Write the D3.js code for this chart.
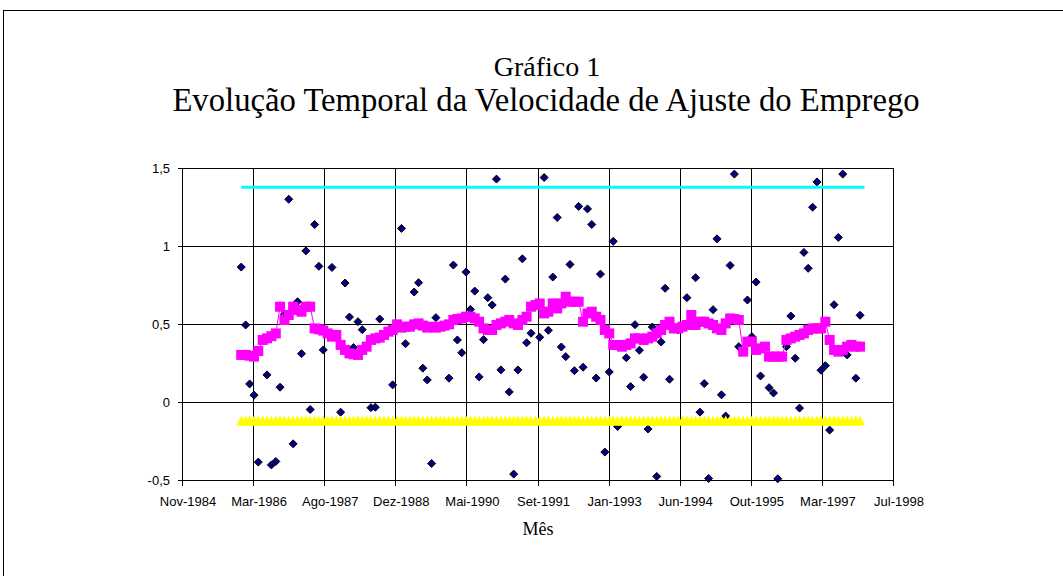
<!DOCTYPE html>
<html>
<head>
<meta charset="utf-8">
<script src="https://cdn.jsdelivr.net/npm/d3@7"></script>
<style>
  body { margin: 0; background: #fff; }
  svg { display: block; }
</style>
</head>
<body>
<svg id="chart" width="1063" height="576"></svg>
<script>
// monthly series, Jan-1986 .. Dec-1997 (null = hidden behind other marks)
const firstMonth = "1986-01-01";
const velocidade = [
  0.868, 0.497, 0.119, 0.047, -0.382, null, 0.177, -0.400, -0.378, 0.098, 0.567, 1.303,
  -0.265, 0.646, 0.313, 0.972, -0.045, 1.141, 0.873, 0.337, null, 0.866, null, -0.062,
  0.766, 0.548, 0.352, 0.518, 0.467, null, -0.033, -0.030, 0.535, null, null, 0.113,
  null, 1.116, 0.377, null, 0.708, 0.768, 0.220, 0.145, -0.391, 0.544, null, null,
  0.156, 0.881, 0.401, 0.319, 0.836, 0.597, 0.714, 0.164, 0.403, 0.672, 0.625, 1.432,
  0.209, 0.791, 0.068, -0.459, 0.209, 0.921, 0.383, 0.444, null, 0.418, 1.442, 0.463,
  0.804, 1.186, 0.356, 0.294, 0.885, 0.204, 1.257, 0.226, 1.241, 1.141, 0.157, 0.823,
  -0.318, 0.196, 1.033, -0.154, null, 0.287, 0.102, 0.499, 0.335, 0.162, -0.170, 0.484,
  -0.474, 0.388, 0.732, 0.149, null, 0.465, null, 0.672, null, 0.800, -0.062, 0.121,
  -0.487, 0.595, 1.049, 0.049, -0.087, 0.879, 1.464, 0.358, null, 0.657, 0.422, 0.772,
  0.170, null, 0.095, 0.061, -0.489, null, 0.358, 0.554, 0.284, -0.036, 0.962, 0.860,
  1.252, 1.414, 0.207, 0.236, -0.177, 0.627, 1.058, 1.464, 0.305, null, 0.156, 0.559
];
const mediaMovel = [
  0.305, 0.305, 0.300, 0.294, 0.330, 0.401, 0.411, 0.425, 0.443, 0.614, 0.529, 0.561,
  0.614, 0.593, 0.582, 0.614, 0.614, 0.475, 0.469, 0.461, 0.443, 0.422, 0.433, 0.369,
  0.337, 0.315, 0.309, 0.305, 0.337, 0.358, 0.401, 0.411, 0.416, 0.433, 0.454, 0.465,
  0.501, 0.480, 0.486, 0.486, 0.501, 0.507, 0.493, 0.480, 0.486, 0.480, 0.486, 0.493,
  0.501, 0.529, 0.535, 0.539, 0.550, 0.550, 0.539, 0.518, 0.475, 0.465, 0.465, 0.497,
  0.507, 0.518, 0.529, 0.507, 0.497, 0.529, 0.550, 0.614, 0.625, 0.635, 0.571, 0.582,
  0.635, 0.603, 0.635, 0.678, 0.646, 0.646, 0.646, 0.518, 0.571, 0.582, 0.550, 0.529,
  0.465, 0.443, 0.369, 0.369, 0.358, 0.369, 0.379, 0.411, 0.411, 0.401, 0.411, 0.422,
  0.443, 0.465, 0.497, 0.518, 0.475, 0.475, 0.486, 0.497, 0.561, 0.497, 0.518, 0.518,
  0.507, 0.497, 0.475, 0.465, 0.507, 0.539, 0.535, 0.529, 0.326, 0.390, 0.390, 0.337,
  0.347, 0.358, 0.294, 0.294, 0.294, 0.294, 0.401, 0.411, 0.422, 0.433, 0.443, 0.465,
  0.475, 0.475, 0.475, 0.518, 0.401, 0.337, 0.326, 0.337, 0.358, 0.369, 0.358, 0.358
];
const limiteSuperior = 1.38;
const limiteInferior = -0.115;

const xTickDates = ["1984-11-14", "1986-03-29", "1987-08-11", "1988-12-23", "1990-05-07",
  "1991-09-19", "1993-01-31", "1994-06-15", "1995-10-28", "1997-03-11", "1998-07-24"];
const xTickLabels = ["Nov-1984", "Mar-1986", "Ago-1987", "Dez-1988", "Mai-1990",
  "Set-1991", "Jan-1993", "Jun-1994", "Out-1995", "Mar-1997", "Jul-1998"];
const yTicks = [1.5, 1, 0.5, 0, -0.5];
const yTickLabels = ["1,5", "1", "0,5", "0", "-0,5"];

const svg = d3.select("#chart");

const months = velocidade.map((d, i) => d3.utcMonth.offset(new Date(firstMonth), i));
const tickDates = xTickDates.map(s => new Date(s));

const x = d3.scaleUtc()
  .domain([tickDates[0], tickDates[tickDates.length - 1]])
  .range([182.5, 893.5]);
const y = d3.scaleLinear()
  .domain([-0.5, 1.5])
  .range([480.5, 168.5]);

const px = v => Math.round(v - 0.5) + 0.5;

// chart frame
svg.append("rect")
  .attr("x", 3.5).attr("y", 10.5)
  .attr("width", 1100).attr("height", 600)
  .attr("fill", "#fff").attr("stroke", "#000");

// titles
svg.append("text")
  .attr("x", 547).attr("y", 76)
  .attr("text-anchor", "middle")
  .style("font", "28px 'Liberation Serif', serif")
  .text("Gráfico 1");
svg.append("text")
  .attr("x", 546).attr("y", 111)
  .attr("text-anchor", "middle")
  .style("font", "32.7px 'Liberation Serif', serif")
  .text("Evolução Temporal da Velocidade de Ajuste do Emprego");
svg.append("text")
  .attr("x", 538).attr("y", 535)
  .attr("text-anchor", "middle")
  .style("font", "18px 'Liberation Serif', serif")
  .text("Mês");

// gridlines
const grid = svg.append("g").attr("stroke", "#000").attr("shape-rendering", "crispEdges");
grid.selectAll(".h").data(yTicks).join("line")
  .attr("x1", x.range()[0]).attr("x2", x.range()[1])
  .attr("y1", d => px(y(d))).attr("y2", d => px(y(d)));
grid.selectAll(".v").data(tickDates).join("line")
  .attr("x1", d => px(x(d))).attr("x2", d => px(x(d)))
  .attr("y1", y.range()[1]).attr("y2", y.range()[0]);

// axes
const yAxis = svg.append("g").attr("shape-rendering", "crispEdges");
yAxis.selectAll("line").data(yTicks).join("line")
  .attr("x1", x.range()[0] - 5).attr("x2", x.range()[0])
  .attr("y1", d => px(y(d))).attr("y2", d => px(y(d)))
  .attr("stroke", "#000");
yAxis.selectAll("text").data(yTicks).join("text")
  .attr("x", 170).attr("y", d => y(d)).attr("dy", "0.35em")
  .attr("text-anchor", "end")
  .style("font", "13px 'Liberation Sans', Arial, sans-serif")
  .text((d, i) => yTickLabels[i]);

const xAxis = svg.append("g").attr("shape-rendering", "crispEdges");
xAxis.selectAll("line").data(tickDates).join("line")
  .attr("x1", d => px(x(d))).attr("x2", d => px(x(d)))
  .attr("y1", y.range()[0]).attr("y2", y.range()[0] + 5)
  .attr("stroke", "#000");
xAxis.selectAll("text").data(tickDates).join("text")
  .attr("x", d => x(d) + 5.5).attr("y", 506)
  .attr("text-anchor", "middle")
  .style("font", "13px 'Liberation Sans', Arial, sans-serif")
  .text((d, i) => xTickLabels[i]);

// series
const plot = svg.append("g");

plot.append("g").selectAll("path")
  .data(velocidade.map((v, i) => [months[i], v]).filter(d => d[1] !== null))
  .join("path")
  .attr("transform", d => `translate(${x(d[0])},${y(d[1])})`)
  .attr("d", "M0,-4L4,0L0,4L-4,0Z")
  .attr("fill", "#000080")
  .attr("stroke", "#000")
  .attr("stroke-width", 1);

plot.append("path")
  .datum(mediaMovel.map((v, i) => [months[i], v]))
  .attr("d", d3.line().x(d => x(d[0])).y(d => y(d[1])))
  .attr("fill", "none")
  .attr("stroke", "#ff00ff")
  .attr("stroke-width", 1);
plot.append("g").selectAll("rect")
  .data(mediaMovel.map((v, i) => [months[i], v]))
  .join("rect")
  .attr("x", d => x(d[0]) - 5).attr("y", d => y(d[1]) - 5)
  .attr("width", 10).attr("height", 10)
  .attr("fill", "#ff00ff");

const lastMonth = d3.utcMonth.offset(months[months.length - 1], 1);
plot.append("line")
  .attr("x1", x(months[0])).attr("x2", x(lastMonth))
  .attr("y1", y(limiteSuperior)).attr("y2", y(limiteSuperior))
  .attr("stroke", "#00ffff")
  .attr("stroke-width", 3);

plot.append("g").selectAll("path")
  .data(months)
  .join("path")
  .attr("transform", d => `translate(${x(d)},${y(limiteInferior)})`)
  .attr("d", "M0,-5L5,5L-5,5Z")
  .attr("fill", "#ffff00");
</script>
</body>
</html>
